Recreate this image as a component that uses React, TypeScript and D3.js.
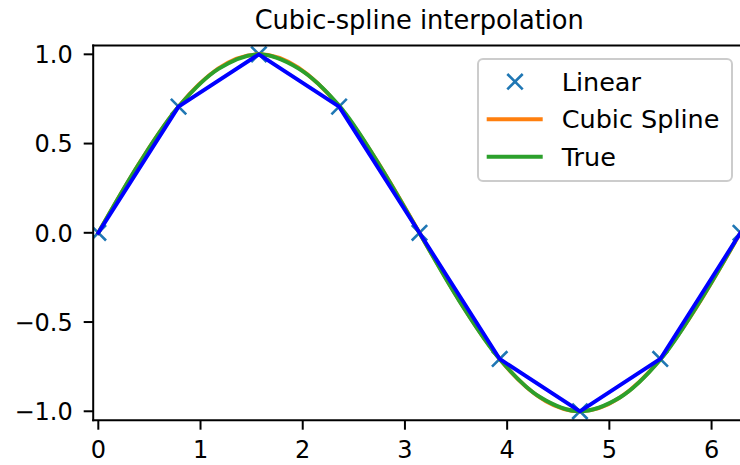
import * as d3 from "d3";
import { useEffect } from "react";

// sample nodes (x = k*pi/4, y)
const nodeX = [0, 0.785, 1.571, 2.356, 3.142, 3.927, 4.712, 5.498, 6.283];
const nodeY = [0, 0.707, 1.0, 0.707, 0, -0.707, -1.0, -0.707, 0];

// "True" curve samples
const trueX = [0, 0.39, 0.79, 1.18, 1.57, 1.96, 2.36, 2.75, 3.14, 3.53, 3.93, 4.32, 4.71, 5.11, 5.5, 5.89, 6.22];
const trueY = [0, 0.38, 0.71, 0.92, 1.0, 0.92, 0.71, 0.38, 0, -0.38, -0.71, -0.92, -1.0, -0.92, -0.71, -0.38, -0.06];

const xTicks = [0, 1, 2, 3, 4, 5, 6];
const yTicks = [-1.0, -0.5, 0.0, 0.5, 1.0];
const legendLabels = ["Linear", "Cubic Spline", "True"];

const W = 740;
const H = 465;
const margin = { left: 93.2, right: 745.3, top: 45.4, bottom: 420.2 };
const font = "'DejaVu Sans', sans-serif";

const fmt = (v: number) => (v < 0 ? "\u2212" : "") + Math.abs(v).toFixed(1);

export default function App() {
  useEffect(() => {
    document.body.style.margin = "0";
  }, []);

  const x = d3.scaleLinear().domain([-0.05, 6.33]).range([margin.left, margin.right]);
  const y = d3.scaleLinear().domain([-1.05, 1.05]).range([margin.bottom, margin.top]);

  const nodes = nodeX.map((v, i) => ({ x: v, y: nodeY[i] }));
  const trueData = trueX.map((v, i) => ({ x: v, y: trueY[i] }));

  const linear = d3
    .line<{ x: number; y: number }>()
    .x((d) => x(d.x))
    .y((d) => y(d.y));
  const spline = d3
    .line<{ x: number; y: number }>()
    .x((d) => x(d.x))
    .y((d) => y(d.y))
    .curve(d3.curveNatural);
  const smooth = d3
    .line<{ x: number; y: number }>()
    .x((d) => x(d.x))
    .y((d) => y(d.y))
    .curve(d3.curveCatmullRom);

  const ms = 7.7; // half-size of x marker
  const xMark = (cx: number, cy: number) =>
    `M${cx - ms},${cy - ms}L${cx + ms},${cy + ms}M${cx - ms},${cy + ms}L${cx + ms},${cy - ms}`;

  const legX = 478;
  const legY = 59;
  const rows = [81.7, 119.2, 156.7];

  return (
    <svg width={W} height={H} style={{ display: "block" }} fontFamily={font}>
      <defs>
        <clipPath id="plot">
          <rect x={margin.left} y={margin.top} width={margin.right - margin.left} height={margin.bottom - margin.top} />
        </clipPath>
      </defs>
      <rect width={W} height={H} fill="#fff" />

      <g clipPath="url(#plot)">
        {nodes.map((d, i) => (
          <path key={i} d={xMark(x(d.x), y(d.y))} stroke="#1f77b4" strokeWidth={2.6} fill="none" />
        ))}
        <path d={spline(nodes) ?? ""} stroke="#ff7f0e" strokeWidth={3.9} fill="none" strokeLinecap="square" />
        <path d={smooth(trueData) ?? ""} stroke="#2ca02c" strokeWidth={3.9} fill="none" strokeLinecap="square" />
        <path d={linear(nodes) ?? ""} stroke="#0000ff" strokeWidth={3.9} fill="none" strokeLinecap="square" strokeLinejoin="round" />
      </g>

      {/* spines */}
      <g stroke="#000" strokeWidth={2} fill="none" strokeLinecap="square">
        <line x1={margin.left} x2={margin.left} y1={margin.top} y2={margin.bottom} />
        <line x1={margin.left} x2={margin.right} y1={margin.bottom} y2={margin.bottom} />
        <line x1={margin.left} x2={margin.right} y1={margin.top} y2={margin.top} />
        <line x1={margin.right} x2={margin.right} y1={margin.top} y2={margin.bottom} />
      </g>

      {/* x axis */}
      {xTicks.map((t) => (
        <g key={t}>
          <line x1={x(t)} x2={x(t)} y1={margin.bottom} y2={margin.bottom + 9.5} stroke="#000" strokeWidth={2} />
          <text x={x(t)} y={458.3} textAnchor="middle" fontSize={24}>
            {t}
          </text>
        </g>
      ))}

      {/* y axis */}
      {yTicks.map((t) => (
        <g key={t}>
          <line x1={margin.left - 9.5} x2={margin.left} y1={y(t)} y2={y(t)} stroke="#000" strokeWidth={2} />
          <text x={72.7} y={y(t) + 8.7} textAnchor="end" fontSize={24}>
            {fmt(t)}
          </text>
        </g>
      ))}

      <text x={(margin.left + margin.right) / 2} y={29.3} textAnchor="middle" fontSize={25.7}>
        Cubic-spline interpolation
      </text>

      {/* legend */}
      <rect x={legX} y={legY} width={254} height={122} rx={5} fill="#fff" fillOpacity={0.8} stroke="#cccccc" strokeWidth={2} />
      <path d={xMark(515, rows[0])} stroke="#1f77b4" strokeWidth={2.6} fill="none" />
      <line x1={486.7} x2={542.7} y1={rows[1]} y2={rows[1]} stroke="#ff7f0e" strokeWidth={3.9} />
      <line x1={486.7} x2={542.7} y1={rows[2]} y2={rows[2]} stroke="#2ca02c" strokeWidth={3.9} />
      {legendLabels.map((l, i) => (
        <text key={l} x={561.7} y={rows[i] + 9.2} fontSize={25.5}>
          {l}
        </text>
      ))}
    </svg>
  );
}
